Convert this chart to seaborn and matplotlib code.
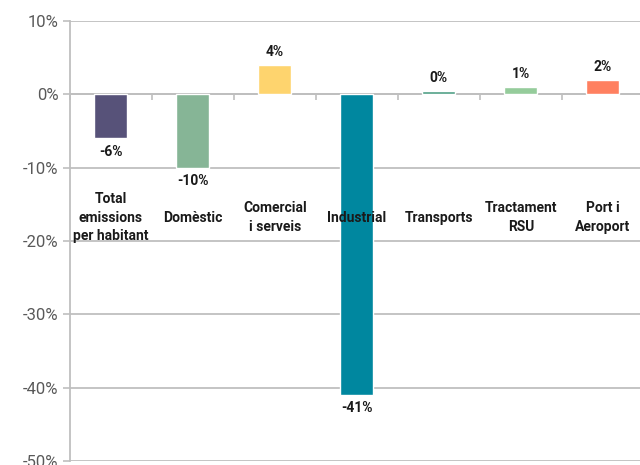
import matplotlib
matplotlib.use("Agg")
import matplotlib.pyplot as plt
import seaborn as sns
import pandas as pd
from matplotlib.ticker import FixedLocator, FuncFormatter

categories = ["Total\nemissions\nper habitant", "Domèstic", "Comercial\ni serveis",
              "Industrial", "Transports", "Tractament\nRSU", "Port i\nAeroport"]
values = [-6, -10, 4, -41, 0.4, 1, 2]
colors = ["#575279", "#86B596", "#FED46E", "#00879F", "#4E9E85", "#95CC9B", "#FF8060"]
y_ticks = [10, 0, -10, -20, -30, -40, -50]

sns.set_theme(style="white")
plt.rcParams["font.family"] = ["Roboto", "DejaVu Sans"]

df = pd.DataFrame({"cat": categories, "val": values})

fig = plt.figure(figsize=(6.4, 4.65), dpi=100)
ax = fig.add_axes([0.109, 0.0086, 0.897, 0.946])

sns.barplot(data=df, x="cat", y="val", hue="cat", palette=colors,
            width=0.4, legend=False, saturation=1, ax=ax, zorder=3)

ax.set_ylim(-50, 10)
ax.set_xlim(-0.5, len(categories) - 0.5)
ax.set_yticks(y_ticks)
ax.yaxis.set_major_formatter(FuncFormatter(lambda v, p: f"{v:.0f}%"))
ax.tick_params(axis="y", labelsize=12, labelcolor="#595959", color="#BFBFBF",
               length=5, width=1.2, direction="out", left=True, pad=3)
ax.grid(axis="y", color="#BFBFBF", linewidth=1.3)
ax.set_axisbelow(True)
ax.set_xlabel("")
ax.set_ylabel("")

for s in ["top", "right"]:
    ax.spines[s].set_visible(False)
ax.spines["left"].set_color("#BFBFBF")
ax.spines["left"].set_linewidth(1.3)
ax.spines["bottom"].set_position(("data", 0))
ax.spines["bottom"].set_color("#BFBFBF")
ax.spines["bottom"].set_linewidth(1.3)
ax.spines["bottom"].set_zorder(2)

# category boundary ticks along the zero line
ax.xaxis.set_major_locator(FixedLocator([]))
ax.xaxis.set_minor_locator(FixedLocator([i - 0.5 for i in range(len(categories) + 1)]))
ax.tick_params(axis="x", which="minor", bottom=True, length=4, width=1.2,
               color="#BFBFBF", direction="out")

# category names drawn inside the plot area
for i, name in enumerate(categories):
    ax.text(i, -16.8, name, ha="center", va="center", fontsize=10,
            fontweight="bold", color="#1a1a1a", linespacing=1.4, zorder=4)

# value labels
for i, v in enumerate(values):
    off = 9.5 if v >= 0 else -9.5
    ax.annotate(f"{v:.0f}%", (i, v), xytext=(0, off), textcoords="offset points",
                ha="center", va="center", fontsize=10, fontweight="bold",
                color="#1a1a1a", zorder=4)

fig.savefig("out.png", dpi=100)
